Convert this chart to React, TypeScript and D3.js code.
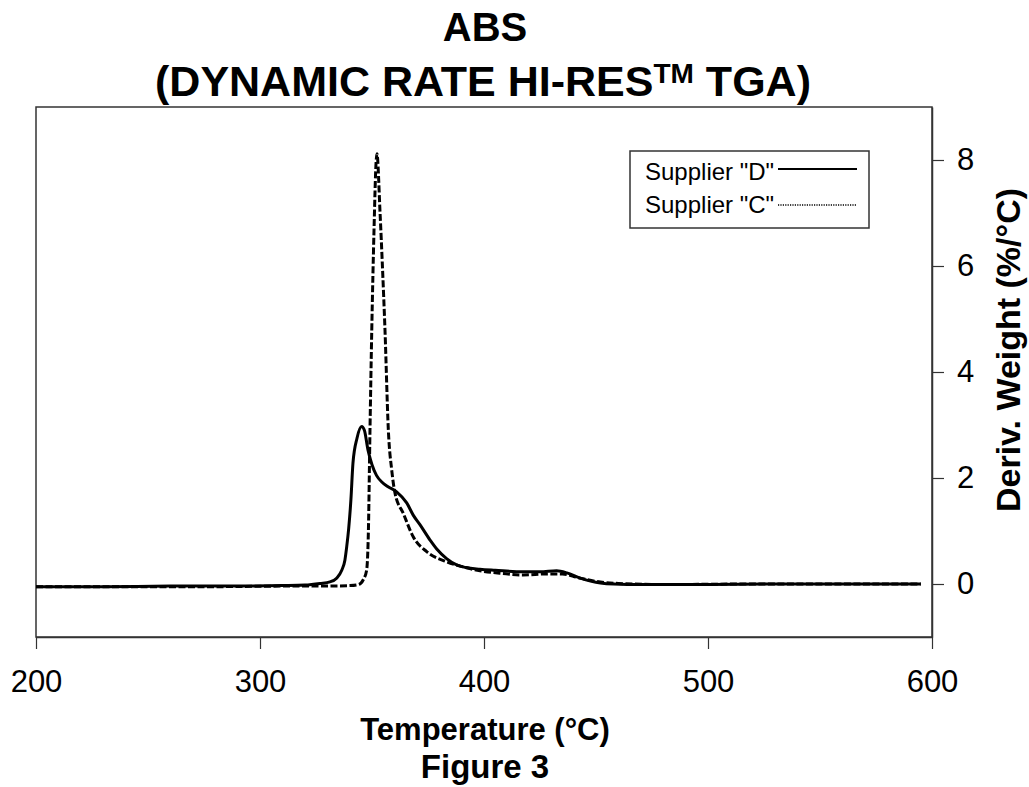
import React, { useEffect, useRef } from "react";
import * as d3 from "d3";

// Supplier "D" (solid line)
const tempsD = [200, 230, 260, 290, 310, 320, 326.8, 331.2, 334.2, 336.5, 337.9, 338.7, 339.6, 340.6, 341.5, 343.3, 345.4, 346.6, 348.2, 350, 352, 354.5, 357, 361, 365.5, 368.4, 371.4, 375.9, 378.9, 383.3, 387.8, 392, 398.2, 405, 417.5, 425, 432.4, 437, 442.9, 448, 452, 458, 470, 500, 530, 560, 595];
const valuesD = [-0.05, -0.05, -0.04, -0.04, -0.03, -0.02, 0.01, 0.04, 0.11, 0.26, 0.45, 0.7, 1.05, 1.6, 2.28, 2.75, 2.97, 2.9, 2.53, 2.25, 2.05, 1.92, 1.84, 1.74, 1.53, 1.3, 1.12, 0.83, 0.66, 0.48, 0.36, 0.31, 0.28, 0.26, 0.23, 0.23, 0.25, 0.21, 0.11, 0.05, 0.02, 0.0, -0.01, -0.01, 0, 0, 0];

// Supplier "C" (dashed line)
const tempsC = [200, 240, 280, 310, 330, 340.2, 344, 346.1, 347.6, 348.4, 349.1, 349.9, 350.9, 351.8, 352.2, 353.6, 354.6, 355.8, 357.3, 358.8, 360.3, 364, 368.4, 374.4, 383.3, 390, 398.2, 408, 417.5, 428, 435, 442, 450, 460, 480, 520, 560, 595];
const valuesC = [-0.05, -0.05, -0.05, -0.04, -0.04, -0.03, -0.01, 0.08, 0.26, 1.02, 2.9, 4.8, 6.68, 7.94, 8.12, 7.0, 6.05, 4.79, 2.9, 2.15, 1.71, 1.33, 0.89, 0.61, 0.42, 0.33, 0.25, 0.2, 0.17, 0.19, 0.19, 0.12, 0.05, 0.01, -0.01, 0, 0, 0];

const xTicks = [200, 300, 400, 500, 600];
const yTicks = [0, 2, 4, 6, 8];
const legendLabels = ['Supplier "D"', 'Supplier "C"'];

const FONT = "'Liberation Sans', Arial, sans-serif";

function App() {
  const ref = useRef<SVGSVGElement>(null);

  useEffect(() => {
    const svg = d3.select(ref.current);
    svg.selectAll("*").remove();

    const margin = { left: 36, top: 107 };
    const w = 932 - 36;
    const h = 637 - 107;

    const xScale = d3.scaleLinear().domain([200, 600]).range([0, w]);
    const yScale = d3.scaleLinear().domain([-1, 9]).range([h, 0]);

    const g = svg.append("g")
      .attr("transform", `translate(${margin.left}, ${margin.top})`);

    // frame
    g.append("rect")
      .attr("width", w)
      .attr("height", h)
      .attr("fill", "none")
      .attr("stroke", "#333")
      .attr("stroke-width", 1.5);

    // axes
    const xAxis = g.append("g")
      .attr("transform", `translate(0, ${h})`)
      .call(d3.axisBottom(xScale).tickValues(xTicks).tickSize(12).tickSizeOuter(0).tickPadding(21));

    const yAxis = g.append("g")
      .attr("transform", `translate(${w}, 0)`)
      .call(d3.axisRight(yScale).tickValues(yTicks).tickSize(12).tickSizeOuter(0).tickPadding(13));

    [xAxis, yAxis].forEach(a => {
      a.select(".domain").attr("stroke", "#333").attr("stroke-width", 1.5);
      a.selectAll(".tick line").attr("stroke", "#333").attr("stroke-width", 1.2);
      a.selectAll(".tick text")
        .attr("fill", "#000")
        .style("font-family", FONT)
        .style("font-size", "31px");
    });

    // curves
    const line = d3.line<[number, number]>()
      .x(d => xScale(d[0]))
      .y(d => yScale(d[1]))
      .curve(d3.curveMonotoneX);

    const ptsD = tempsD.map((t, i) => [t, valuesD[i]] as [number, number]);
    const ptsC = tempsC.map((t, i) => [t, valuesC[i]] as [number, number]);

    g.append("path")
      .attr("d", line(ptsC))
      .attr("fill", "none")
      .attr("stroke", "#000")
      .attr("stroke-width", 3)
      .attr("stroke-dasharray", "7,2.5");

    g.append("path")
      .attr("d", line(ptsD))
      .attr("fill", "none")
      .attr("stroke", "#000")
      .attr("stroke-width", 3);

    // legend
    const legend = svg.append("g");
    legend.append("rect")
      .attr("x", 630)
      .attr("y", 151)
      .attr("width", 239)
      .attr("height", 77)
      .attr("fill", "#fff")
      .attr("stroke", "#333")
      .attr("stroke-width", 1.5);

    legendLabels.forEach((label, i) => {
      const yy = 180 + i * 33;
      legend.append("text")
        .attr("x", 645)
        .attr("y", yy)
        .style("font-family", FONT)
        .style("font-size", "24px")
        .text(label);
      legend.append("line")
        .attr("x1", 778)
        .attr("x2", 857)
        .attr("y1", yy - 11 + i * 3)
        .attr("y2", yy - 11 + i * 3)
        .attr("stroke", "#000")
        .attr("stroke-width", i === 0 ? 2 : 1.5)
        .attr("stroke-dasharray", i === 0 ? null : "1.2,1.2");
    });

    // titles
    svg.append("text")
      .attr("x", 485)
      .attr("y", 41)
      .attr("text-anchor", "middle")
      .style("font-family", FONT)
      .style("font-weight", "bold")
      .style("font-size", "40px")
      .text("ABS");

    const t2 = svg.append("text")
      .attr("x", 483)
      .attr("y", 96)
      .attr("text-anchor", "middle")
      .style("font-family", FONT)
      .style("font-weight", "bold")
      .style("font-size", "43px");
    t2.append("tspan").text("(DYNAMIC RATE HI-RES");
    t2.append("tspan").attr("dy", -13).style("font-size", "28px").text("TM");
    t2.append("tspan").attr("dy", 13).text(" TGA)");

    svg.append("text")
      .attr("x", 485)
      .attr("y", 740)
      .attr("text-anchor", "middle")
      .style("font-family", FONT)
      .style("font-weight", "bold")
      .style("font-size", "31px")
      .text("Temperature (°C)");

    svg.append("text")
      .attr("x", 485)
      .attr("y", 778)
      .attr("text-anchor", "middle")
      .style("font-family", FONT)
      .style("font-weight", "bold")
      .style("font-size", "33px")
      .text("Figure 3");

    svg.append("text")
      .attr("transform", "translate(1020, 350) rotate(-90)")
      .attr("text-anchor", "middle")
      .style("font-family", FONT)
      .style("font-weight", "bold")
      .style("font-size", "34px")
      .text("Deriv. Weight (%/°C)");
  }, []);

  return (
    <svg
      ref={ref}
      width={1029}
      height={787}
      style={{ position: "absolute", left: 0, top: 0, background: "#fff" }}
    />
  );
}

export default App;
